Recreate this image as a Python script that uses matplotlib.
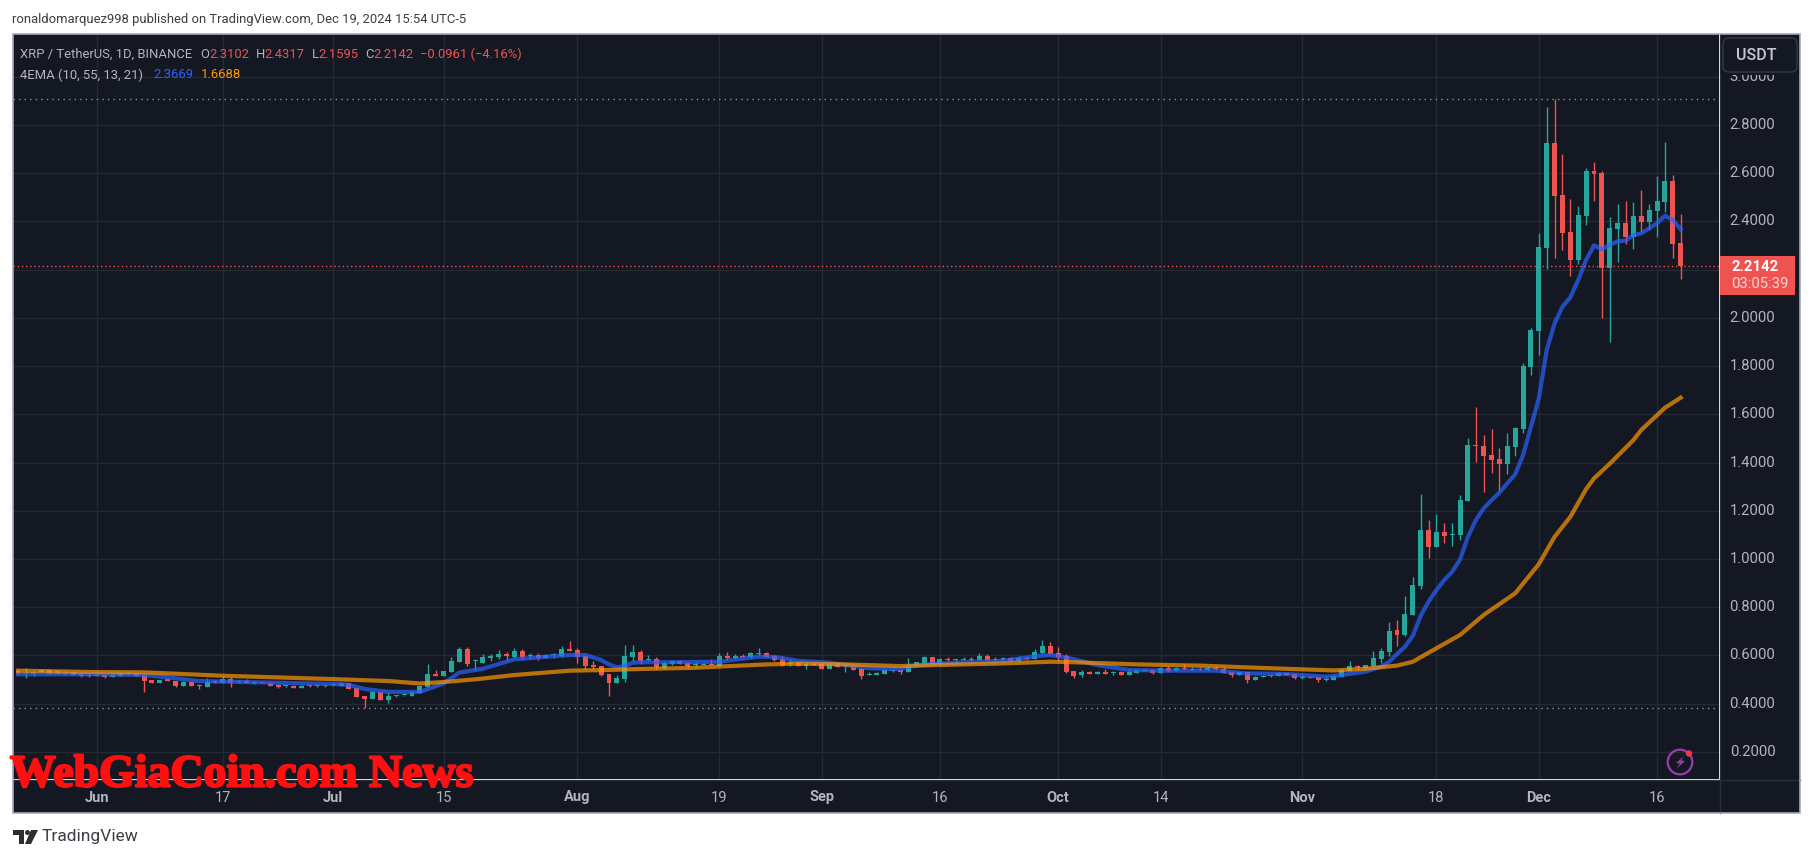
import matplotlib
matplotlib.use("Agg")
import matplotlib.pyplot as plt
from matplotlib.patches import FancyBboxPatch, Rectangle, Circle, Polygon
import matplotlib.patheffects as pe
import numpy as np

opens = [.537,.525,.522,.533,.540,.525,.531,.530,.525,.520,
.516,.518,.512,.516,.522,.525,.519,.498,.487,.501,
.494,.475,.489,.478,.471,.494,.486,.502,.491,.496,
.487,.490,.487,.478,.472,.475,.467,.475,.472,.472,
.476,.475,.484,.465,.432,.421,.447,.415,.432,.435,
.433,.446,.471,.523,.516,.531,.573,.627,.576,.570,
.590,.594,.607,.594,.619,.599,.602,.590,.601,.598,
.627,.623,.598,.560,.556,.523,.486,.502,.594,.614,
.581,.585,.548,.565,.577,.569,.562,.562,.565,.556,
.598,.590,.598,.594,.605,.610,.598,.585,.565,.569,
.558,.566,.566,.544,.569,.556,.556,.544,.519,.519,
.523,.537,.540,.531,.556,.569,.594,.565,.587,.581,
.583,.587,.581,.598,.587,.581,.590,.577,.590,.585,
.610,.639,.610,.598,.536,.519,.531,.523,.531,.527,
.531,.519,.527,.536,.540,.527,.548,.536,.548,.541,
.544,.540,.548,.544,.531,.519,.531,.498,.512,.515,
.515,.527,.523,.507,.511,.511,.498,.498,.511,.536,
.556,.548,.556,.585,.614,.706,.685,.768,.888,1.120,
1.050,1.112,1.099,1.099,1.240,1.472,1.468,1.431,1.414,1.394,
1.464,1.538,1.797,1.947,2.291,2.725,2.508,2.354,2.240,2.424,
2.609,2.599,2.208,2.368,2.392,2.335,2.422,2.397,2.443,2.480,
2.567,2.3102]
closes = [.525,.527,.533,.541,.523,.536,.526,.520,.516,.516,
.520,.512,.520,.529,.526,.516,.494,.487,.498,.496,
.473,.490,.475,.475,.489,.487,.501,.487,.494,.487,
.490,.486,.475,.469,.475,.467,.475,.472,.475,.475,
.479,.487,.462,.428,.420,.447,.417,.432,.436,.436,
.449,.473,.523,.516,.536,.577,.627,.565,.578,.594,
.599,.607,.596,.619,.594,.602,.590,.602,.602,.627,
.619,.594,.556,.552,.519,.486,.507,.598,.614,.577,
.585,.552,.569,.577,.565,.556,.565,.566,.560,.598,
.590,.598,.594,.610,.609,.594,.581,.560,.569,.556,
.565,.560,.544,.569,.552,.560,.540,.515,.523,.527,
.540,.540,.531,.556,.573,.594,.565,.585,.583,.584,
.585,.583,.598,.581,.583,.590,.577,.590,.587,.614,
.639,.606,.594,.531,.515,.531,.523,.531,.523,.531,
.519,.531,.540,.540,.527,.548,.536,.548,.544,.544,
.541,.548,.544,.527,.519,.531,.498,.511,.515,.519,
.527,.519,.507,.509,.507,.498,.501,.515,.540,.556,
.551,.560,.590,.619,.701,.685,.772,.892,1.120,1.050,
1.112,1.095,1.104,1.244,1.472,1.468,1.427,1.410,1.394,1.468,
1.543,1.800,1.950,2.294,2.725,2.506,2.353,2.240,2.426,2.609,
2.596,2.206,2.371,2.392,2.335,2.422,2.397,2.447,2.484,2.567,
2.307,2.2142]
highs = [.540,.547,.535,.544,.541,.541,.534,.532,.527,.526,
.523,.520,.523,.533,.530,.527,.523,.499,.499,.505,
.496,.494,.490,.482,.505,.497,.515,.512,.500,.501,
.494,.491,.489,.480,.478,.476,.477,.479,.477,.477,
.484,.490,.485,.466,.432,.448,.448,.443,.437,.438,
.452,.475,.565,.538,.537,.594,.634,.634,.584,.605,
.605,.621,.613,.630,.627,.610,.610,.605,.610,.638,
.660,.631,.599,.577,.558,.524,.519,.643,.643,.623,
.602,.594,.577,.581,.581,.573,.573,.569,.585,.610,
.614,.606,.606,.614,.631,.614,.602,.598,.585,.577,
.569,.573,.567,.570,.573,.569,.557,.548,.531,.531,
.544,.544,.541,.590,.574,.598,.595,.590,.594,.585,
.594,.594,.610,.606,.594,.594,.594,.598,.598,.627,
.664,.656,.635,.606,.537,.540,.536,.536,.544,.536,
.536,.544,.541,.544,.541,.552,.556,.552,.565,.552,
.552,.552,.556,.552,.532,.532,.532,.515,.519,.520,
.531,.528,.524,.523,.515,.512,.515,.519,.544,.577,
.560,.561,.619,.631,.739,.747,.846,.925,1.269,1.162,
1.186,1.149,1.149,1.265,1.502,1.630,1.514,1.539,1.460,1.522,
1.547,1.811,1.956,2.350,2.873,2.906,2.679,2.493,2.464,2.620,
2.646,2.609,2.418,2.472,2.484,2.480,2.530,2.472,2.588,2.729,
2.592,2.4317]
lows = [.522,.505,.516,.531,.522,.523,.520,.518,.512,.512,
.515,.508,.511,.516,.520,.516,.450,.486,.486,.494,
.471,.475,.474,.462,.470,.486,.485,.471,.486,.486,
.480,.484,.474,.464,.470,.465,.466,.470,.470,.470,
.473,.474,.461,.427,.381,.420,.416,.404,.429,.433,
.432,.445,.469,.515,.515,.530,.572,.558,.540,.569,
.576,.585,.578,.590,.585,.587,.581,.589,.590,.595,
.618,.569,.544,.544,.515,.432,.485,.490,.577,.565,
.577,.544,.546,.560,.564,.548,.552,.560,.559,.555,
.581,.585,.593,.590,.602,.593,.577,.556,.556,.555,
.544,.559,.543,.543,.551,.531,.539,.502,.518,.518,
.522,.531,.523,.530,.555,.568,.564,.560,.577,.565,
.581,.577,.580,.577,.577,.580,.576,.573,.581,.584,
.606,.605,.577,.527,.507,.511,.522,.522,.522,.519,
.518,.518,.526,.535,.523,.526,.531,.535,.540,.540,
.540,.536,.540,.526,.511,.518,.486,.497,.511,.511,
.514,.518,.502,.502,.506,.490,.494,.497,.510,.535,
.540,.544,.555,.569,.598,.639,.681,.767,.876,1.004,
1.049,1.066,1.054,1.079,1.239,1.402,1.278,1.356,1.282,1.352,
1.427,1.524,1.763,1.846,2.202,2.249,2.281,2.175,2.223,2.385,
2.486,2.000,1.900,2.231,2.307,2.285,2.356,2.364,2.335,2.439,
2.248,2.1595]

ema_fast_day = [0,10,16,19,23,30,40,42,44,47,51,54,56,59,63,70,72,74,75,76,77,78,79,83,89,92,94,96,99,103,108,112,
                113,116,120,125,129,131,133,137,141,146,152,156,161,166,168,171,173,174,175,176,177,178,179,180,181,182,
                183,184,185,186,187,188,189,190,191,192,193,194,195,196,197,198,199,200,201,202,203,204,205,206,207,208,209,210,211]
ema_fast = [.522,.522,.519,.509,.494,.489,.482,.478,.461,.449,.449,.484,.529,.545,.584,.602,.602,.581,.563,.551,.556,.570,.572,.572,.574,.587,.595,.594,.578,.570,.547,.543,
            .554,.565,.572,.578,.596,.602,.592,.560,.540,.537,.537,.526,.523,.512,.519,.533,.554,.574,.606,.636,.681,.764,.823,.871,.913,.947,
            .998,1.092,1.161,1.210,1.244,1.275,1.314,1.351,1.431,1.548,1.666,1.867,1.977,2.046,2.085,2.157,2.240,2.300,2.284,2.302,2.317,2.320,2.343,2.350,2.371,2.392,2.423,2.406,2.3669]
ema_slow_day = [0,10,16,26,40,47,51,54,58,63,70,75,79,86,89,95,99,105,112,116,125,131,133,142,150,159,167,171,175,177,180,183,186,190,193,195,197,199,200,202,205,206,209,211]
ema_slow = [.537,.531,.530,.516,.502,.494,.484,.490,.501,.519,.537,.540,.544,.549,.554,.563,.566,.563,.556,.560,.567,.574,.573,.563,.558,.547,.538,.545,.558,.574,.630,.685,.768,.858,.979,1.092,1.175,1.290,1.334,1.395,1.493,1.535,1.627,1.6688]

price_ticks = [0.2,0.4,0.6,0.8,1.0,1.2,1.4,1.6,1.8,2.0,2.2,2.4,2.6,2.8,3.0]
hidden_price_label = 2.2
date_ticks = [10,26,40,54,71,89,102,117,132,145,163,180,193,208]
date_labels = ["Jun","17","Jul","15","Aug","19","Sep","16","Oct","14","Nov","18","Dec","16"]
month_labels = {"Jun","Jul","Aug","Sep","Oct","Nov","Dec"}
period_high = 2.906
period_low = 0.382
last_price = 2.2142

BG = "#141823"; GRID = "#252934"; TXT = "#b2b5be"
UP = "#26a69a"; DOWN = "#ef5350"
W, H = 1814, 858
plt.rcParams['font.family'] = ['Roboto', 'DejaVu Sans']
fig = plt.figure(figsize=(W/100, H/100), dpi=100, facecolor="white")

def axpos(x0, y0, x1, y1):
    return [x0/W, 1-y1/H, (x1-x0)/W, (y1-y0)/H]

ax = fig.add_axes(axpos(13, 34, 1719, 779), facecolor=BG)
ax.set_xlim((13-18)/7.88, (1719-18)/7.88)
ax.set_ylim((800.2-779)/241.2, (800.2-34)/241.2)
ax.set_yticks(price_ticks); ax.set_xticks(date_ticks)
ax.tick_params(length=0, labelleft=False, labelbottom=False)
ax.grid(True, color=GRID, lw=1)
ax.set_axisbelow(True)
for s in ax.spines.values():
    s.set_visible(False)

ax.axhline(period_high, color="#8a8e98", lw=1, ls=(0,(1,3)), zorder=1.5)
ax.axhline(period_low, color="#8a8e98", lw=1, ls=(0,(1,3)), zorder=1.5)

days = np.arange(len(opens))
o, h, l, c = map(np.array, (opens, highs, lows, closes))
cols = [UP if cc >= oo else DOWN for oo, cc in zip(o, c)]
ax.vlines(days, l, h, colors=cols, lw=1, zorder=2)
body = np.maximum(np.abs(c-o), 0.004)
ax.bar(days, body, bottom=np.minimum(o, c), width=0.63, color=cols, lw=0, zorder=2.2)

ax.plot(ema_fast_day, ema_fast, color="#2962ff", alpha=0.7, lw=3.0, zorder=3, solid_joinstyle="round")
ax.plot(ema_slow_day, ema_slow, color="#ff9800", alpha=0.7, lw=3.0, zorder=3.1, solid_joinstyle="round")
ax.axhline(last_price, color=DOWN, lw=1, ls=(0,(1,2)), zorder=3.2)

# overlay in pixel space for frame, axis panels and labels
ov = fig.add_axes([0, 0, 1, 1], facecolor="none")
ov.set_xlim(0, W); ov.set_ylim(H, 0); ov.axis("off")
ov.add_patch(Rectangle((1719.5, 34), 80.5, 779, fc=BG, ec="none", zorder=1))
ov.add_patch(Rectangle((13, 779.5), 1787, 33.5, fc=BG, ec="none", zorder=1))
ov.plot([1719.5, 1719.5], [34, 813], color="#2a2e39", lw=1, zorder=2)
ov.plot([13, 1800], [779.5, 779.5], color="#2a2e39", lw=1, zorder=2)
ov.add_patch(Rectangle((13, 34), 1787, 779, fc="none", ec="#a6a9b3", lw=1.2, zorder=6))

def py(p):
    return 800.2 - 241.2*p
for p in price_ticks:
    if p == hidden_price_label:
        continue
    ov.text(1752.5, py(p), f"{p:.4f}", color=TXT, fontsize=10.7, ha="center", va="center", zorder=3)
for d, lab in zip(date_ticks, date_labels):
    ov.text(18+7.88*d, 797.5, lab, color=TXT, fontsize=10.5, ha="center", va="center", zorder=3,
            fontweight="bold" if lab in month_labels else "normal")

ov.add_patch(Rectangle((1720.5, 35), 78.5, 40, fc=BG, ec="none", zorder=3.5))
ov.add_patch(FancyBboxPatch((1726, 41), 68, 28, boxstyle="round,pad=3,rounding_size=6",
                            fc=BG, ec="#363a45", lw=1, zorder=4))
ov.text(1756, 55, "USDT", color="#c5c8d0", fontsize=11.5, fontweight="medium", ha="center", va="center", zorder=5)

ov.add_patch(Rectangle((1720, 256), 75, 39, fc=DOWN, ec="none", zorder=4))
ov.text(1731, 267, f"{last_price:.4f}", color="white", fontsize=10.7, fontweight="bold", ha="left", va="center", zorder=5)
ov.text(1731, 284, "03:05:39", color="#fbd6d5", fontsize=10.7, ha="left", va="center", zorder=5)

# legend rows
ov.text(12, 20, "ronaldomarquez998 published on TradingView.com, Dec 19, 2024 15:54 UTC-5",
        color="#3a3d44", fontsize=9.4, ha="left", va="center")
y1, y2 = 54, 75
for x, s, col in [(20, "XRP / TetherUS, 1D, BINANCE", TXT), (200, "O", TXT), (209, "2.3102", DOWN),
                  (256, "H", TXT), (264, "2.4317", DOWN), (312, "L", TXT), (318, "2.1595", DOWN),
                  (365, "C", TXT), (373, "2.2142", DOWN), (420, "\u22120.0961 (\u22124.16%)", DOWN)]:
    ov.text(x, y1, s, color=col, fontsize=9.4, ha="left", va="center", zorder=5)
for x, s, col in [(20, "4EMA (10, 55, 13, 21)", TXT), (153, "2.3669", "#2962ff"), (201, "1.6688", "#ff9800")]:
    ov.text(x, y2, s, color=col, fontsize=9.4, ha="left", va="center", zorder=5)

# lightning icon
ov.add_patch(Circle((1680, 762), 12.3, fc="none", ec="#9c3bb0", lw=1.6, zorder=5))
ov.add_patch(Polygon([(1684, 756), (1676, 763), (1680, 763.5), (1676, 769), (1685, 761), (1681, 760.5)],
                     fc="#9c3bb0", ec="none", zorder=5))
ov.add_patch(Circle((1689, 753.5), 3.2, fc="#f23645", ec="none", zorder=6))

# watermark
ov.text(10, 786.5, "WebGiaCoin.com News", color="#ff1010", fontsize=33, fontweight="bold",
        family="Liberation Serif", ha="left", va="baseline", zorder=8,
        path_effects=[pe.withStroke(linewidth=1.6, foreground="#ff1010")])

# TradingView logo
ov.add_patch(Polygon([(13, 830), (24, 830), (24, 844), (19, 844), (19, 835), (13, 835)], fc="#2e2e2e", ec="none", zorder=5))
ov.add_patch(Circle((27.5, 832.5), 2.5, fc="#2e2e2e", ec="none", zorder=5))
ov.add_patch(Polygon([(31, 830), (38, 830), (31, 844), (25, 844)], fc="#2e2e2e", ec="none", zorder=5))
ov.text(42, 837, "TradingView", color="#3a3d44", fontsize=12.5, ha="left", va="center")

fig.savefig("out.png", dpi=100, facecolor="white")
